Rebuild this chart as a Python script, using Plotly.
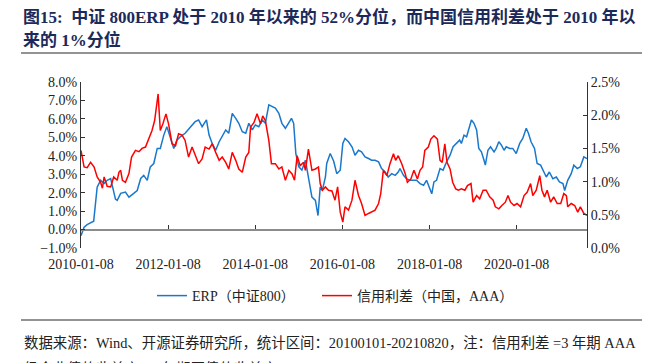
import pandas as pd
import plotly.graph_objects as go

# ---------------- data ----------------
erp_t = [2010.02, 2010.09, 2010.16, 2010.28, 2010.31, 2010.39, 2010.47, 2010.55, 2010.62, 2010.70,
         2010.77, 2010.81, 2010.85, 2010.93, 2011.04, 2011.12, 2011.23, 2011.31, 2011.39, 2011.46,
         2011.54, 2011.61, 2011.69, 2011.77, 2011.84, 2011.92, 2011.99, 2012.07, 2012.15, 2012.22,
         2012.30, 2012.41, 2012.53, 2012.64, 2012.72, 2012.80, 2012.90, 2012.96, 2013.03, 2013.11,
         2013.19, 2013.26, 2013.34, 2013.41, 2013.49, 2013.57, 2013.64, 2013.72, 2013.80, 2013.87,
         2013.95, 2014.02, 2014.10, 2014.18, 2014.25, 2014.33, 2014.41, 2014.48, 2014.56, 2014.63,
         2014.71, 2014.79, 2014.85, 2014.90, 2014.95, 2015.02, 2015.09, 2015.17, 2015.24, 2015.32,
         2015.40, 2015.46, 2015.51, 2015.56, 2015.63, 2015.66, 2015.74, 2015.82, 2015.89, 2015.97,
         2016.03, 2016.08, 2016.16, 2016.24, 2016.31, 2016.39, 2016.46, 2016.54, 2016.62, 2016.69,
         2016.77, 2016.85, 2016.92, 2017.00, 2017.07, 2017.15, 2017.23, 2017.30, 2017.34, 2017.42,
         2017.49, 2017.57, 2017.65, 2017.72, 2017.80, 2017.88, 2017.95, 2018.01, 2018.07, 2018.12,
         2018.18, 2018.26, 2018.33, 2018.41, 2018.49, 2018.56, 2018.64, 2018.71, 2018.75, 2018.81,
         2018.87, 2018.92, 2018.98, 2019.04, 2019.10, 2019.15, 2019.21, 2019.27, 2019.30, 2019.36,
         2019.42, 2019.50, 2019.55, 2019.61, 2019.67, 2019.73, 2019.78, 2019.86, 2019.93, 2020.01,
         2020.09, 2020.16, 2020.24, 2020.29, 2020.35, 2020.43, 2020.49, 2020.57, 2020.62, 2020.70,
         2020.77, 2020.85, 2020.93, 2021.00, 2021.08, 2021.12, 2021.19, 2021.27, 2021.33, 2021.41,
         2021.48, 2021.56, 2021.61]
erp_v = [-0.33, 0.13, 0.27, 0.40, 0.45, 2.30, 2.67, 2.50, 2.67, 2.76,
         2.12, 1.65, 1.58, 1.96, 2.03, 1.76, 1.96, 2.12, 2.77, 2.94,
         2.67, 3.40, 3.58, 4.40, 4.40, 5.12, 5.58, 4.95, 4.40, 4.85,
         5.03, 5.22, 5.58, 5.85, 5.94, 5.58, 5.95, 5.12, 4.67, 4.30,
         4.76, 5.03, 5.40, 5.22, 6.30, 6.03, 5.76, 5.30, 5.22, 5.76,
         5.40, 5.67, 5.58, 5.94, 5.76, 6.76, 6.67, 6.58, 6.30, 5.76,
         5.49, 5.76, 6.03, 5.76, 4.12, 3.40, 3.22, 3.76, 2.85, 1.76,
         1.58, 0.76, 2.30, 2.12, 2.85, 3.58, 4.12, 3.70, 3.03, 3.22,
         4.67, 4.94, 4.76, 4.49, 4.03, 4.30, 4.21, 3.94, 3.85, 3.76,
         3.76, 3.67, 3.31, 3.12, 2.85, 3.03, 2.94, 3.12, 3.31, 2.94,
         2.76, 2.67, 2.67, 2.67, 2.49, 2.40, 2.67, 2.30, 1.94, 2.58,
         2.67, 3.31, 3.22, 3.67, 4.03, 4.49, 4.67, 4.85, 4.67, 5.12,
         5.03, 5.49, 5.94, 5.76, 5.40, 4.40, 4.21, 3.76, 3.49, 4.30,
         4.49, 4.21, 4.40, 4.76, 4.58, 4.30, 4.49, 4.40, 4.40, 4.12,
         4.67, 4.94, 5.49, 5.22, 4.76, 4.40, 3.58, 3.49, 3.22, 2.85,
         3.12, 2.76, 2.85, 2.58, 2.49, 2.12, 2.67, 3.03, 3.49, 3.31,
         3.40, 3.94, 3.85]

cs_t = [2010.02, 2010.09, 2010.16, 2010.24, 2010.32, 2010.39, 2010.47, 2010.51, 2010.55, 2010.62,
        2010.70, 2010.77, 2010.85, 2010.89, 2010.93, 2010.97, 2011.04, 2011.12, 2011.18, 2011.27,
        2011.35, 2011.42, 2011.50, 2011.58, 2011.65, 2011.71, 2011.79, 2011.84, 2011.90, 2011.97,
        2012.03, 2012.11, 2012.19, 2012.26, 2012.34, 2012.41, 2012.49, 2012.57, 2012.64, 2012.72,
        2012.80, 2012.87, 2012.96, 2013.03, 2013.11, 2013.19, 2013.26, 2013.34, 2013.41, 2013.49,
        2013.57, 2013.64, 2013.72, 2013.80, 2013.87, 2013.91, 2013.99, 2014.06, 2014.14, 2014.19,
        2014.25, 2014.33, 2014.39, 2014.48, 2014.56, 2014.63, 2014.71, 2014.79, 2014.86, 2014.92,
        2014.98, 2015.05, 2015.13, 2015.17, 2015.24, 2015.32, 2015.40, 2015.47, 2015.51, 2015.56,
        2015.63, 2015.70, 2015.78, 2015.85, 2015.91, 2015.97, 2016.03, 2016.08, 2016.16, 2016.24,
        2016.31, 2016.39, 2016.46, 2016.54, 2016.62, 2016.69, 2016.77, 2016.85, 2016.90, 2016.96,
        2017.04, 2017.11, 2017.19, 2017.24, 2017.30, 2017.38, 2017.46, 2017.51, 2017.59, 2017.66,
        2017.74, 2017.80, 2017.86, 2017.91, 2017.99, 2018.05, 2018.12, 2018.20, 2018.26, 2018.31,
        2018.37, 2018.42, 2018.49, 2018.55, 2018.62, 2018.68, 2018.75, 2018.83, 2018.89, 2018.97,
        2019.02, 2019.10, 2019.17, 2019.25, 2019.32, 2019.40, 2019.48, 2019.53, 2019.61, 2019.68,
        2019.76, 2019.82, 2019.88, 2019.96, 2020.03, 2020.11, 2020.19, 2020.26, 2020.34, 2020.39,
        2020.47, 2020.55, 2020.60, 2020.66, 2020.72, 2020.80, 2020.87, 2020.95, 2021.03, 2021.10,
        2021.16, 2021.19, 2021.27, 2021.35, 2021.42, 2021.48, 2021.56, 2021.61]
cs_v = [1.47, 1.22, 1.21, 1.29, 1.22, 1.07, 0.99, 0.90, 1.07, 0.93,
        0.92, 1.07, 1.02, 1.14, 1.17, 1.02, 0.99, 1.12, 1.37, 1.47,
        1.45, 1.50, 1.52, 1.67, 1.77, 1.92, 2.32, 1.77, 1.87, 2.02,
        1.87, 1.57, 1.54, 1.72, 1.70, 1.62, 1.37, 1.52, 1.39, 1.27,
        1.34, 1.52, 1.49, 1.57, 1.44, 1.32, 1.37, 1.29, 1.19, 1.44,
        1.32, 1.19, 1.14, 1.37, 1.44, 1.82, 1.89, 2.02, 1.87, 1.99,
        1.92, 1.62, 1.27, 1.27, 1.19, 1.22, 1.02, 1.17, 1.12, 1.02,
        1.39, 1.24, 1.29, 1.17, 1.49, 1.17, 1.19, 1.22, 0.97, 0.87,
        0.92, 0.87, 0.86, 0.72, 0.92, 0.54, 0.39, 0.62, 0.57, 0.72,
        1.02, 0.79, 0.67, 0.49, 0.52, 0.54, 0.57, 0.67, 0.82, 1.17,
        1.09, 1.27, 1.42, 1.32, 1.39, 1.27, 1.12, 0.99, 1.04, 1.17,
        1.04, 1.17, 1.22, 1.47, 1.52, 1.64, 1.69, 1.64, 1.32, 1.29,
        1.57, 1.29, 1.19, 0.99, 0.89, 0.87, 0.89, 0.87, 0.94, 0.97,
        0.69, 0.79, 0.74, 0.87, 0.87, 0.77, 0.72, 0.62, 0.59, 0.64,
        0.69, 0.79, 0.69, 0.64, 0.67, 0.62, 0.79, 0.84, 0.97, 0.79,
        0.87, 1.09, 0.87, 0.77, 0.87, 0.69, 0.77, 0.67, 0.67, 0.82,
        0.79, 0.62, 0.67, 0.64, 0.54, 0.62, 0.52, 0.49]

tick_labels = ["2010-01-08", "2012-01-08", "2014-01-08", "2016-01-08", "2018-01-08", "2020-01-08"]
x_start, x_end = "2010-01-08", "2021-08-20"

title_1 = "图15:  中证 800ERP 处于 2010 年以来的 52%分位，而中国信用利差处于 2010 年以"
title_2 = "来的 1%分位"
source_1 = "数据来源：Wind、开源证券研究所，统计区间：20100101-20210820，注：信用利差 =3 年期 AAA"
source_2 = "级企业债的收益率 - 3 年期国债的收益率"
name_erp = "ERP（中证800）"
name_cs = "信用利差（中国，AAA）"


def to_date(y):
    yr = int(y)
    start = pd.Timestamp(year=yr, month=1, day=1)
    return start + pd.Timedelta(days=(y - yr) * 365.25)


erp_d = [to_date(v) for v in erp_t]
cs_d = [to_date(v) for v in cs_t]
erp_d[0] = pd.Timestamp(x_start)
cs_d[0] = pd.Timestamp(x_start)
erp_d[-1] = pd.Timestamp(x_end)
cs_d[-1] = pd.Timestamp(x_end)

# ---------------- layout geometry ----------------
W, H = 649, 363
L, R, T, B = 81, 62, 82, 115
PW, PH = W - L - R, H - T - B


def px(xp):
    return (xp - L) / PW


def py(yp):
    return (H - B - yp) / PH


SERIF = "Liberation Serif, Times New Roman, Noto Sans CJK SC, serif"
TXT = "#222222"

fig = go.Figure()
fig.add_trace(go.Scatter(x=erp_d, y=erp_v, mode="lines", name=name_erp,
                         line=dict(color="#1a78cc", width=1.5), yaxis="y", legend="legend"))
fig.add_trace(go.Scatter(x=cs_d, y=cs_v, mode="lines", name=name_cs,
                         line=dict(color="#ff0000", width=1.5), yaxis="y2", legend="legend2"))

LEG_FONT = dict(family=SERIF, size=14, color=TXT)
fig.update_layout(
    width=W, height=H,
    margin=dict(l=L, r=R, t=T, b=B, autoexpand=False),
    paper_bgcolor="white", plot_bgcolor="white",
    showlegend=True,
    legend=dict(orientation="h", x=px(152), xanchor="left", y=py(296), yanchor="middle",
                font=LEG_FONT, bgcolor="rgba(0,0,0,0)"),
    legend2=dict(orientation="h", x=px(317), xanchor="left", y=py(296), yanchor="middle",
                 font=LEG_FONT, bgcolor="rgba(0,0,0,0)"),
    xaxis=dict(type="date", range=[x_start, x_end], tickmode="array",
               tickvals=tick_labels, ticktext=tick_labels,
               anchor="free", position=1 / 9, automargin=False,
               showline=True, linecolor="#8c8c8c", linewidth=1.5,
               ticks="inside", ticklen=4, tickcolor="#333333", tickwidth=1,
               ticklabelstandoff=22,
               showgrid=False, zeroline=False,
               tickfont=dict(family=SERIF, size=14, color=TXT)),
    yaxis=dict(range=[-1, 8], dtick=1, tick0=0, tickformat=".1f", ticksuffix="%",
               showline=True, linecolor="#333333", linewidth=1, automargin=False,
               ticks="inside", ticklen=4, tickcolor="#333333",
               showgrid=False, zeroline=False,
               tickfont=dict(family=SERIF, size=14, color=TXT)),
    yaxis2=dict(range=[0, 2.5], dtick=0.5, tick0=0, tickformat=".1f", ticksuffix="%",
                overlaying="y", side="right", anchor="x", automargin=False,
                showline=True, linecolor="#333333", linewidth=1,
                ticks="inside", ticklen=4, tickcolor="#333333",
                showgrid=False, zeroline=False,
                tickfont=dict(family=SERIF, size=14, color=TXT)),
)

TITLE_FONT = dict(family=SERIF, size=17, color="#1c2a5a")
SRC_FONT = dict(family=SERIF, size=14.4, color=TXT)
fig.add_annotation(xref="paper", yref="paper", x=px(21), y=py(17), xanchor="left", yanchor="middle",
                   text="<b>" + title_1 + "</b>", showarrow=False, font=TITLE_FONT)
fig.add_annotation(xref="paper", yref="paper", x=px(21), y=py(40), xanchor="left", yanchor="middle",
                   text="<b>" + title_2 + "</b>", showarrow=False, font=TITLE_FONT)
fig.add_annotation(xref="paper", yref="paper", x=px(22), y=py(343), xanchor="left", yanchor="middle",
                   text=source_1, showarrow=False, font=SRC_FONT)
fig.add_annotation(xref="paper", yref="paper", x=px(22), y=py(368), xanchor="left", yanchor="middle",
                   text=source_2, showarrow=False, font=SRC_FONT)

for yline in (53, 320):
    fig.add_shape(type="line", xref="paper", yref="paper", x0=px(21), x1=px(642),
                  y0=py(yline), y1=py(yline), line=dict(color="#6f6f6f", width=1.5))

fig.write_html("out.html", config={"displayModeBar": False},
               post_script="document.body.style.margin='0';document.body.style.padding='0';")
